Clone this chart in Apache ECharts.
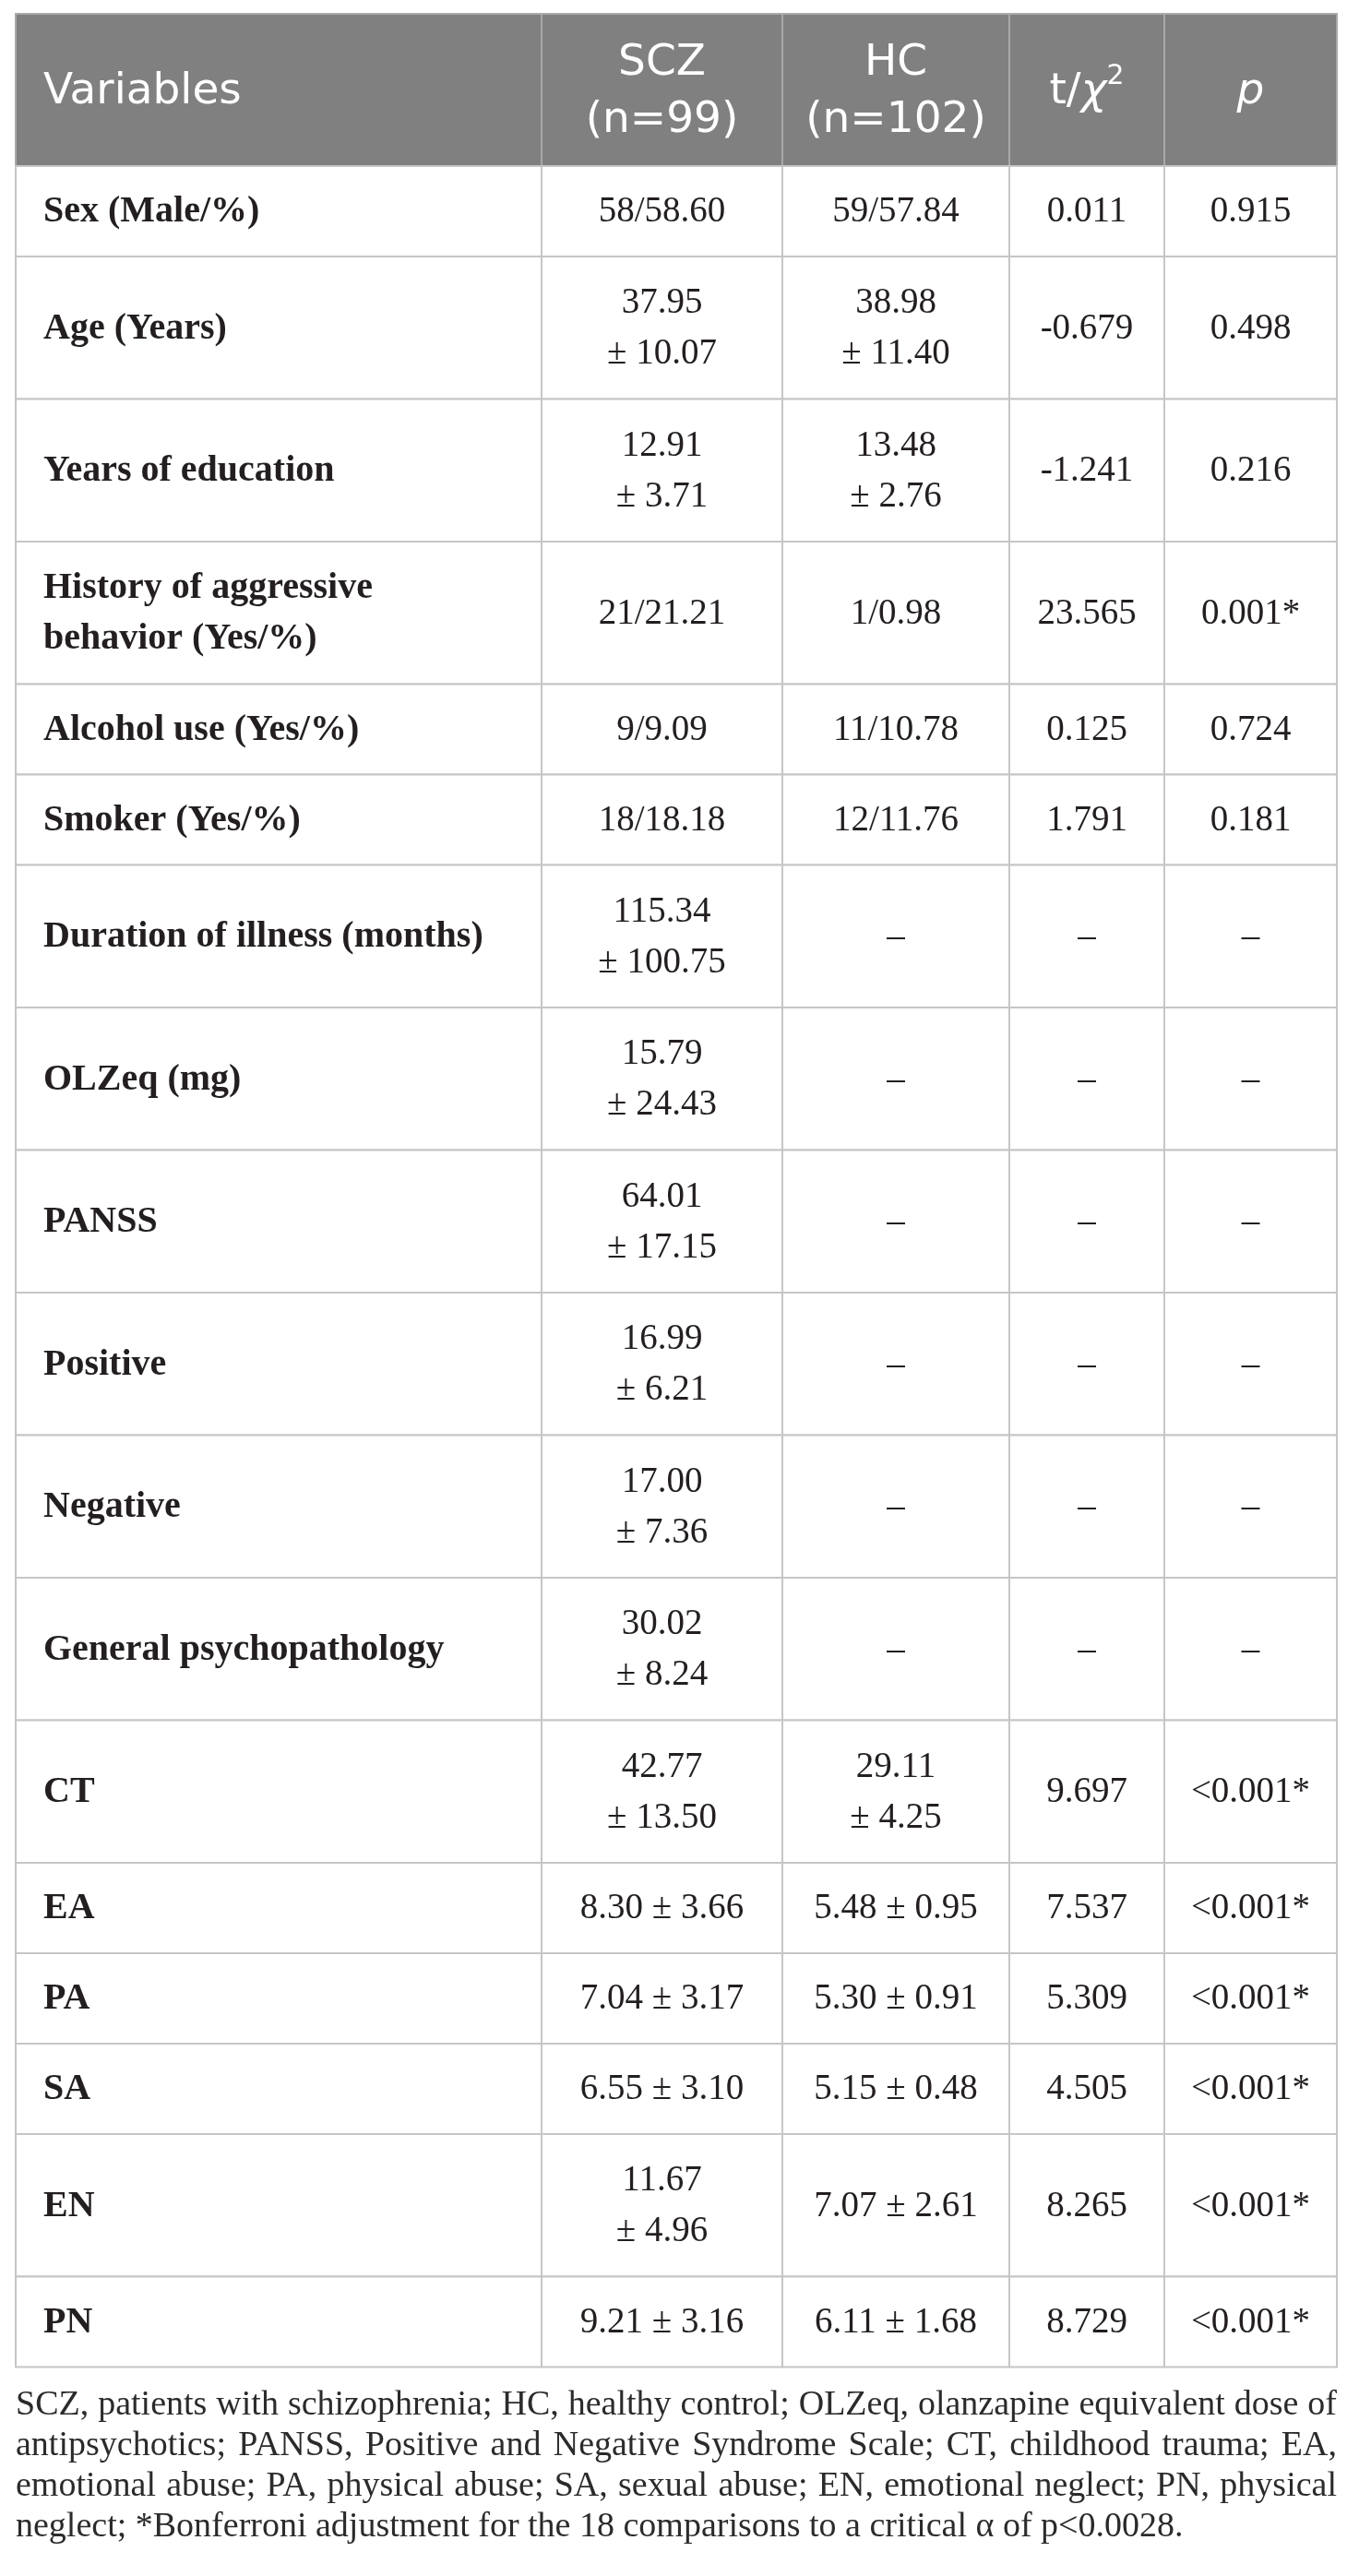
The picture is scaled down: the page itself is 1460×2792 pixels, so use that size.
<!DOCTYPE html>
<html>
<head>
<meta charset="utf-8">
<title>SCZ vs HC demographics</title>
<script src="https://cdn.jsdelivr.net/npm/echarts@6/dist/echarts.min.js"></script>
<style>
html, body { margin: 0; padding: 0; background: #fff; }
#table { width: 1460px; height: 2792px; }
</style>
</head>
<body>
<div id="table"></div>
<script>
// table content
var headers = ['Variables', 'SCZ\n(n=99)', 'HC\n(n=102)', '{n|t/}{i|χ}{s|2}', '{i|p}'];

var variables = [
    'Sex (Male/%)', 'Age (Years)', 'Years of education', 'History of aggressive behavior (Yes/%)',
    'Alcohol use (Yes/%)', 'Smoker (Yes/%)', 'Duration of illness (months)', 'OLZeq (mg)',
    'PANSS', 'Positive', 'Negative', 'General psychopathology',
    'CT', 'EA', 'PA', 'SA', 'EN', 'PN'
];
var sczValues = [
    '58/58.60', '37.95 ± 10.07', '12.91 ± 3.71', '21/21.21', '9/9.09', '18/18.18',
    '115.34 ± 100.75', '15.79 ± 24.43', '64.01 ± 17.15', '16.99 ± 6.21', '17.00 ± 7.36', '30.02 ± 8.24',
    '42.77 ± 13.50', '8.30 ± 3.66', '7.04 ± 3.17', '6.55 ± 3.10', '11.67 ± 4.96', '9.21 ± 3.16'
];
var hcValues = [
    '59/57.84', '38.98 ± 11.40', '13.48 ± 2.76', '1/0.98', '11/10.78', '12/11.76',
    '–', '–', '–', '–', '–', '–',
    '29.11 ± 4.25', '5.48 ± 0.95', '5.30 ± 0.91', '5.15 ± 0.48', '7.07 ± 2.61', '6.11 ± 1.68'
];
var statValues = [
    '0.011', '-0.679', '-1.241', '23.565', '0.125', '1.791',
    '–', '–', '–', '–', '–', '–',
    '9.697', '7.537', '5.309', '4.505', '8.265', '8.729'
];
var pValues = [
    '0.915', '0.498', '0.216', '0.001*', '0.724', '0.181',
    '–', '–', '–', '–', '–', '–',
    '<0.001*', '<0.001*', '<0.001*', '<0.001*', '<0.001*', '<0.001*'
];
var notes = [
    'SCZ, patients with schizophrenia; HC, healthy control; OLZeq, olanzapine equivalent dose of',
    'antipsychotics; PANSS, Positive and Negative Syndrome Scale; CT, childhood trauma; EA,',
    'emotional abuse; PA, physical abuse; SA, sexual abuse; EN, emotional neglect; PN, physical',
    'neglect; *Bonferroni adjustment for the 18 comparisons to a critical α of p<0.0028.'
];

// layout
var colWidths = [570, 261, 246, 168, 187];
var headerHeight = 165;
var labelFont = 'bold 40px "Liberation Serif"';
var valueFont = '39px "Liberation Serif"';
var noteFont = '38px "Liberation Serif"';
var textColor = '#231f20';
var lineColor = '#c6c6c6';

var measureCtx = document.createElement('canvas').getContext('2d');
function textWidth(str, font) {
    measureCtx.font = font;
    return measureCtx.measureText(str).width;
}
// word wrap for the first column
function wrapLabel(str, maxW) {
    var words = str.split(' '), lines = [], cur = '';
    words.forEach(function (w) {
        var test = cur ? cur + ' ' + w : w;
        if (cur && textWidth(test, labelFont) > maxW) {
            lines.push(cur);
            cur = w;
        } else {
            cur = test;
        }
    });
    lines.push(cur);
    return lines.join('\n');
}
// long "mean ± sd" values go on two lines
function wrapValue(str) {
    if (str.indexOf(' ± ') > 0 && textWidth(str, valueFont) > 185) {
        return str.replace(' ± ', '\n± ');
    }
    return str;
}

var columns = [variables, sczValues, hcValues, statValues, pValues];
var cellText = [headers];
var rowHeights = [headerHeight];
variables.forEach(function (v, i) {
    var row = [wrapLabel(v, 510)];
    for (var c = 1; c < columns.length; c++) row.push(wrapValue(columns[c][i]));
    var lines = 1;
    row.forEach(function (t) { lines = Math.max(lines, t.split('\n').length); });
    cellText.push(row);
    rowHeights.push(41.5 + 56.5 * lines);
});

var colEdges = [0];
colWidths.forEach(function (w) { colEdges.push(colEdges[colEdges.length - 1] + w); });
var rowEdges = [0];
rowHeights.forEach(function (h) { rowEdges.push(rowEdges[rowEdges.length - 1] + h); });
var tableWidth = colEdges[colEdges.length - 1];
var tableHeight = rowEdges[rowEdges.length - 1];

var cells = [];
for (var r = 0; r < cellText.length; r++) {
    for (var c = 0; c < colWidths.length; c++) cells.push([c, r]);
}

function renderCell(params, api) {
    var c = api.value(0), r = api.value(1);
    var p0 = api.coord([colEdges[c], rowEdges[r]]);
    var p1 = api.coord([colEdges[c + 1], rowEdges[r + 1]]);
    var isHeader = r === 0;
    var text = cellText[r][c];
    var style;
    if (isHeader) {
        style = {
            text: text,
            x: c === 0 ? p0[0] + 30 : (p0[0] + p1[0]) / 2,
            y: (p0[1] + p1[1]) / 2 + 2,
            align: c === 0 ? 'left' : 'center',
            verticalAlign: 'middle',
            fill: '#ffffff',
            fontFamily: 'DejaVu Sans',
            fontSize: 47,
            lineHeight: 62,
            rich: {
                n: { fill: '#ffffff', fontFamily: 'DejaVu Sans', fontSize: 47, lineHeight: 62 },
                i: { fill: '#ffffff', fontFamily: 'DejaVu Sans', fontStyle: 'italic', fontSize: 47, lineHeight: 62 },
                s: { fill: '#ffffff', fontFamily: 'DejaVu Sans', fontSize: 30, lineHeight: 36, verticalAlign: 'top' }
            }
        };
    } else {
        style = {
            text: text,
            x: c === 0 ? p0[0] + 30 : (p0[0] + p1[0]) / 2,
            y: (p0[1] + p1[1]) / 2 + 1,
            align: c === 0 ? 'left' : 'center',
            verticalAlign: 'middle',
            fill: textColor,
            fontFamily: 'Liberation Serif',
            fontWeight: c === 0 ? 'bold' : 'normal',
            fontSize: c === 0 ? 40 : 39,
            lineHeight: 55
        };
    }
    return {
        type: 'group',
        children: [
            {
                type: 'rect',
                shape: { x: p0[0], y: p0[1], width: p1[0] - p0[0], height: p1[1] - p0[1] },
                style: {
                    fill: isHeader ? '#808080' : '#ffffff',
                    stroke: isHeader ? '#a9a9a9' : lineColor,
                    lineWidth: 2
                }
            },
            { type: 'text', style: style }
        ]
    };
}

// footnote, justified like the source (last line left aligned)
var noteLeft = 17, noteTop = 15 + tableHeight + 20, noteLineHeight = 44;
var noteElements = [];
notes.forEach(function (line, li) {
    var y = noteTop + li * noteLineHeight + noteLineHeight / 2;
    if (li === notes.length - 1) {
        noteElements.push({
            type: 'text', x: noteLeft, y: y,
            style: { text: line, font: noteFont, fill: '#2b2b2b', verticalAlign: 'middle' }
        });
        return;
    }
    var words = line.split(' ');
    var total = 0;
    words.forEach(function (w) { total += textWidth(w, noteFont); });
    var gap = (tableWidth - total) / (words.length - 1);
    var x = noteLeft;
    words.forEach(function (w) {
        noteElements.push({
            type: 'text', x: x, y: y,
            style: { text: w, font: noteFont, fill: '#2b2b2b', verticalAlign: 'middle' }
        });
        x += textWidth(w, noteFont) + gap;
    });
});

var myChart = echarts.init(document.getElementById('table'), null, { renderer: 'canvas' });

var option = {
    backgroundColor: '#ffffff',
    animation: false,
    grid: { left: 17, top: 15, width: tableWidth, height: tableHeight },
    xAxis: { type: 'value', min: 0, max: tableWidth, show: false },
    yAxis: { type: 'value', min: 0, max: tableHeight, inverse: true, show: false },
    series: [
        {
            type: 'custom',
            coordinateSystem: 'cartesian2d',
            renderItem: renderCell,
            data: cells,
            silent: true
        }
    ],
    graphic: noteElements
};

myChart.setOption(option);
</script>
</body>
</html>
